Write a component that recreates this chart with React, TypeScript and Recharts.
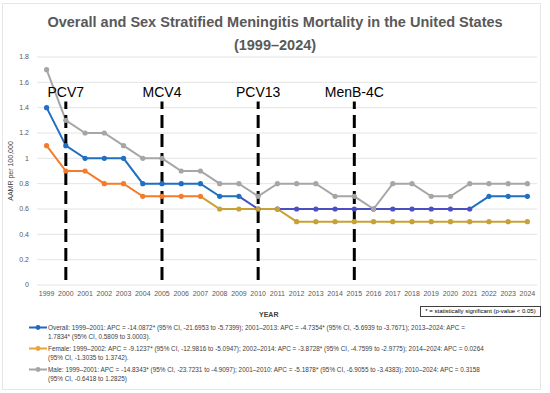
import React from 'react';
import { LineChart, Line, XAxis, YAxis, CartesianGrid, ReferenceLine } from 'recharts';

const years = ['1999','2000','2001','2002','2003','2004','2005','2006','2007','2008','2009','2010','2011','2012','2013','2014','2015','2016','2017','2018','2019','2020','2021','2022','2023','2024'];
const overall = [1.4,1.1,1.0,1.0,1.0,0.8,0.8,0.8,0.8,0.7,0.7,0.6,0.6,0.6,0.6,0.6,0.6,0.6,0.6,0.6,0.6,0.6,0.6,0.7,0.7,0.7];
const female = [1.1,0.9,0.9,0.8,0.8,0.7,0.7,0.7,0.7,0.6,0.6,0.6,0.6,0.5,0.5,0.5,0.5,0.5,0.5,0.5,0.5,0.5,0.5,0.5,0.5,0.5];
const male = [1.7,1.3,1.2,1.2,1.1,1.0,1.0,0.9,0.9,0.8,0.8,0.7,0.8,0.8,0.8,0.7,0.7,0.6,0.8,0.8,0.7,0.7,0.8,0.8,0.8,0.8];
const yTicks = [0,0.2,0.4,0.6,0.8,1,1.2,1.4,1.6,1.8];
const vaccines = [
  { year: '2000', label: 'PCV7' },
  { year: '2005', label: 'MCV4' },
  { year: '2010', label: 'PCV13' },
  { year: '2015', label: 'MenB-4C' },
];
const legendItems = [
  { color: '#2467C2', lines: ['Overall: 1999–2001: APC = -14.0872* (95% CI, -21.6953 to -5.7399); 2001–2013: APC = -4.7354* (95% CI, -5.6939 to -3.7671); 2013–2024: APC =', '1.7834* (95% CI, 0.5809 to 3.0003).'] },
  { color: '#E8A33A', lines: ['Female: 1999–2002: APC = -9.1237* (95% CI, -12.9816 to -5.0947); 2002–2014: APC = -3.8728* (95% CI, -4.7599 to -2.9775); 2014–2024: APC = 0.0264', '(95% CI, -1.3035 to 1.3742).'] },
  { color: '#A5A5A5', lines: ['Male: 1999–2001: APC = -14.8343* (95% CI, -23.7231 to -4.9097); 2001–2010: APC = -5.1878* (95% CI, -6.9055 to -3.4383); 2010–2024: APC = 0.3158', '(95% CI, -0.6418 to 1.2825)'] },
];

const data = years.map((y, i) => ({ year: y, overall: overall[i], female: female[i], male: male[i] }));

const BLUE = '#1F6FC2';
const INDIGO = '#4B4FC2';
const ORANGE = '#F47B2C';
const GOLD = '#C8A134';
const GRAY = '#A6A6A6';

const overallDotColor = (i: number) => (i >= 11 && i <= 22 ? INDIGO : BLUE);
const femaleDotColor = (i: number) => (i >= 9 ? GOLD : ORANGE);

const makeDot = (colorFn: (i: number) => string) => (props: any) => {
  const { cx, cy, index } = props;
  if (cx == null || cy == null) return <g key={`d${index}`} />;
  return <circle key={`d${index}`} cx={cx} cy={cy} r={2.6} fill={colorFn(index)} stroke="none" />;
};

const font = '"Liberation Sans", Arial, sans-serif';

export default function App() {
  return (
    <div style={{ position: 'absolute', left: 0, top: 0, width: 550, height: 393, background: '#fff', fontFamily: font }}>
      <div style={{ position: 'absolute', left: 2, top: 3, width: 537, height: 385, border: '1px solid #E6E6E6' }} />
      <div style={{ position: 'absolute', left: 0, top: 11, width: 550, textAlign: 'center', fontFamily: font, fontWeight: 'bold', fontSize: 14.5, lineHeight: '23px', color: '#595959' }}>
        Overall and Sex Stratified Meningitis Mortality in the United States<br />(1999–2024)
      </div>
      <div style={{ position: 'absolute', left: 0, top: 0 }}>
        <LineChart width={550} height={393} data={data} margin={{ top: 57, right: 13, bottom: 88, left: 7 }}>
          <defs>
            <linearGradient id="gOverall" x1="0" y1="0" x2="1" y2="0">
              <stop offset="0" stopColor={BLUE} />
              <stop offset="0.4" stopColor={BLUE} />
              <stop offset="0.4" stopColor={INDIGO} />
              <stop offset="0.88" stopColor={INDIGO} />
              <stop offset="0.88" stopColor={BLUE} />
              <stop offset="1" stopColor={BLUE} />
            </linearGradient>
            <linearGradient id="gFemale" x1="0" y1="0" x2="1" y2="0">
              <stop offset="0" stopColor={ORANGE} />
              <stop offset="0.32" stopColor={ORANGE} />
              <stop offset="0.32" stopColor={GOLD} />
              <stop offset="1" stopColor={GOLD} />
            </linearGradient>
          </defs>
          <CartesianGrid vertical={false} stroke="#E4E4E4" />
          <XAxis dataKey="year" type="category" interval={0} padding={{ left: 9.6, right: 9.6 }} axisLine={false} tickLine={false} tickSize={0} tickMargin={6} height={20} tick={{ fontSize: 7, fill: '#595959', fontFamily: font }} />
          <YAxis domain={[0, 1.8]} ticks={yTicks} interval={0} axisLine={false} tickLine={false} width={30} tick={{ fontSize: 7, fill: '#595959', fontFamily: font }}
            label={{ value: 'AAMR per 100,000', angle: -90, position: 'insideLeft', offset: 4, style: { fontSize: 7, fill: '#404040', fontFamily: font, textAnchor: 'middle' } }} />
          <Line dataKey="overall" stroke="url(#gOverall)" strokeWidth={2} dot={makeDot(overallDotColor)} activeDot={false} isAnimationActive={false} />
          <Line dataKey="female" stroke="url(#gFemale)" strokeWidth={2} dot={makeDot(femaleDotColor)} activeDot={false} isAnimationActive={false} />
          <Line dataKey="male" stroke={GRAY} strokeWidth={2} dot={makeDot(() => GRAY)} activeDot={false} isAnimationActive={false} />
          {vaccines.map((v) => (
            <ReferenceLine key={v.year} segment={[{ x: v.year, y: 0.04 }, { x: v.year, y: 1.448 }]} stroke="#000" strokeWidth={3} strokeDasharray="13 6"
              label={{ value: v.label, position: 'top', fill: '#000', fontSize: 14, fontFamily: font, offset: 5 }} />
          ))}
        </LineChart>
      </div>
      <div style={{ position: 'absolute', left: 259, top: 311, fontSize: 7, fontWeight: 'bold', color: '#404040' }}>YEAR</div>
      <div style={{ position: 'absolute', left: 420, top: 306, width: 119, height: 9, border: '1px solid #404040', fontSize: 6, lineHeight: '9px', textAlign: 'center', color: '#000', whiteSpace: 'nowrap' }}>
        * = statistically significant (p-value &lt; 0.05)
      </div>
      {legendItems.map((it, k) => (
        <div key={k} style={{ position: 'absolute', left: 28, top: 323 + k * 21, display: 'flex', alignItems: 'flex-start' }}>
          <svg width={20} height={9} style={{ display: 'block' }}>
            <line x1={1} y1={4.5} x2={19} y2={4.5} stroke={it.color} strokeWidth={2} />
            <circle cx={10} cy={4.5} r={2.4} fill={it.color} />
          </svg>
          <div style={{ fontSize: 6.4, lineHeight: '9.3px', color: '#404040', whiteSpace: 'nowrap' }}>
            {it.lines.map((l, j) => <div key={j}>{l}</div>)}
          </div>
        </div>
      ))}
    </div>
  );
}
